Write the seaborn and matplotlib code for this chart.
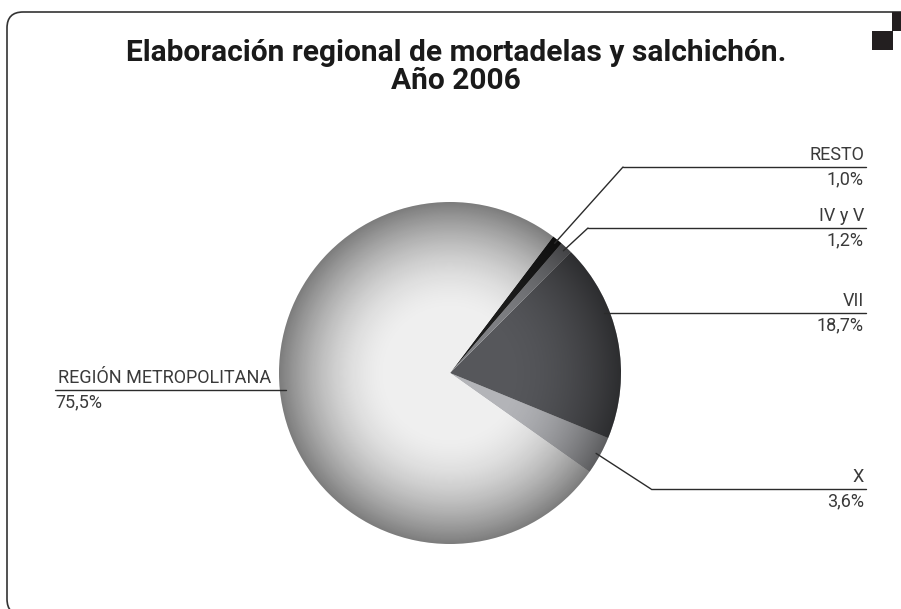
import numpy as np
import matplotlib
matplotlib.use('Agg')
import matplotlib.pyplot as plt
from matplotlib import font_manager
from matplotlib.patches import Circle, FancyBboxPatch, Rectangle
import seaborn as sns

# data (order as drawn counter-clockwise, starting at the X slice)
regions = ['X', 'VII', 'IV y V', 'RESTO', 'REGIÓN METROPOLITANA']
shares = [3.6, 18.7, 1.2, 1.0, 75.5]
share_labels = ['3,6%', '18,7%', '1,2%', '1,0%', '75,5%']
slice_colors = ['#b3b4b8', '#56575b', '#7e7f83', '#1c1c1c', '#efefef']

title = 'Elaboración regional de mortadelas y salchichón.\nAño 2006'

sns.set_theme(style='white')
names = {f.name for f in font_manager.fontManager.ttflist}
narrow = 'Liberation Sans Narrow' if 'Liberation Sans Narrow' in names else 'Roboto'
plt.rcParams['font.family'] = [narrow, 'DejaVu Sans']

W, H = 901, 609
def py(y):
    return H - y

fig = plt.figure(figsize=(9.01, 6.09), dpi=100)
ax = fig.add_axes([0, 0, 1, 1])

cx, cy, R = 450, py(373), 171
wedges, _ = ax.pie(shares, colors=slice_colors, startangle=-35.3, counterclock=True,
                   center=(cx, cy), radius=R, wedgeprops=dict(linewidth=0))

# radial shading over the pie
n = 400
g = np.linspace(-1, 1, n)
xx, yy = np.meshgrid(g, g)
rr = np.sqrt(xx ** 2 + yy ** 2)
t = np.clip((rr - 0.35) / 0.65, 0, 1)
shade = np.zeros((n, n, 4))
shade[..., 3] = 0.48 * t ** 1.8
im = ax.imshow(shade, extent=[cx - R, cx + R, cy - R, cy + R], interpolation='bilinear', zorder=3)
im.set_clip_path(Circle((cx, cy), R, transform=ax.transData))

# label layout: (line y, elbow x or None, label side)
layout = {
    'RESTO': (167, 623, 'right'),
    'IV y V': (228, 588, 'right'),
    'VII': (313, None, 'right'),
    'X': (489, 651, 'right'),
    'REGIÓN METROPOLITANA': (390, None, 'left'),
}
cum = np.cumsum([0] + shares)
line_kw = dict(color='#2b2b2b', lw=1.0, zorder=4)
txt_kw = dict(fontsize=13, color='#3a3a3a', fontweight='normal')
for i, name in enumerate(regions):
    ly, ex, side = layout[name]
    ly = py(ly)
    if ex is None:
        dy = ly - cy
        dx = np.sqrt((0.965 * R) ** 2 - dy ** 2)
        ax0 = cx + dx if side == 'right' else cx - dx
        ay0 = ly
    else:
        mid = np.deg2rad(-35.3 + (cum[i] + cum[i + 1]) / 2 * 3.6)
        ax0 = cx + 0.975 * R * np.cos(mid)
        ay0 = cy + 0.975 * R * np.sin(mid)
        ax.plot([ax0, ex], [ay0, ly], **line_kw)
        ax0, ay0 = ex, ly
    if side == 'right':
        ax.plot([ax0, 866], [ly, ly], **line_kw)
        ax.text(864, ly + 3, name, ha='right', va='bottom', **txt_kw)
        ax.text(864, ly - 3, share_labels[i], ha='right', va='top', **txt_kw)
    else:
        ax.plot([55, ax0], [ly, ly], **line_kw)
        ax.text(58, ly + 3, name, ha='left', va='bottom', **txt_kw)
        ax.text(55, ly - 3, share_labels[i], ha='left', va='top', **txt_kw)

ax.text(456, py(67), title, ha='center', va='center', fontsize=21.5, fontweight='bold',
        color='#1a1a1a', linespacing=1.02)

# frame and corner squares
frame = FancyBboxPatch((7, py(615)), 1000, 603, boxstyle='round,pad=0,rounding_size=16',
                       fill=False, ec='#333333', lw=1.2, zorder=1)
ax.add_patch(frame)
ax.add_patch(Rectangle((892, py(31)), 12, 19, color='#231f20', lw=0, zorder=5))
ax.add_patch(Rectangle((872, py(50)), 21, 19, color='#231f20', lw=0, zorder=5))

ax.set_xlim(0, W)
ax.set_ylim(0, H)
ax.set_aspect('equal')
ax.axis('off')
fig.savefig('out.png', dpi=100, facecolor='white')
